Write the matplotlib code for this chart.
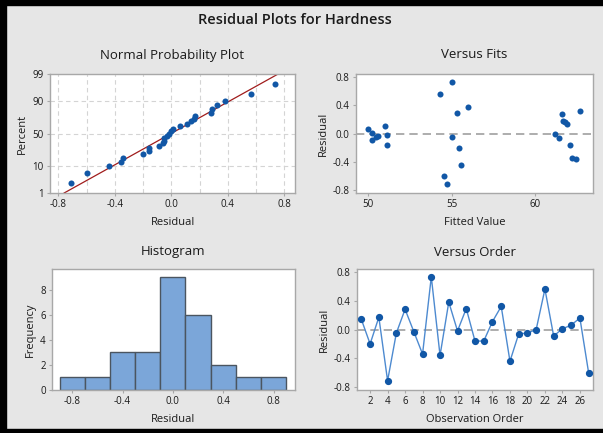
import matplotlib
matplotlib.use("Agg")
import matplotlib.pyplot as plt
from matplotlib.patches import Rectangle
from statistics import NormalDist
import numpy as np

plt.rcParams["font.family"] = ["Open Sans", "DejaVu Sans"]

# residuals in observation order (1..27)
residuals = [0.14, -0.20, 0.17, -0.71, -0.05, 0.28, -0.03, -0.34, 0.73,
             -0.36, 0.38, -0.02, 0.29, -0.16, -0.16, 0.11, 0.32, -0.44,
             -0.06, -0.05, 0.00, 0.56, -0.09, 0.01, 0.06, 0.16, -0.60]
# fitted values for the same observations
fitted = [61.94, 55.42, 61.72, 54.74, 55.00, 61.66, 50.60, 62.22, 55.00,
          62.45, 55.98, 51.14, 55.30, 62.14, 51.14, 51.00, 62.70, 55.56,
          61.48, 50.45, 61.24, 54.30, 50.20, 50.20, 50.00, 61.82, 54.56]
order = list(range(1, len(residuals) + 1))
hist_edges = [-0.9, -0.7, -0.5, -0.3, -0.1, 0.1, 0.3, 0.5, 0.7, 0.9]
pct_ticks = [1, 10, 50, 90, 99]

BG = "#e6e6e6"
BLUE = "#1157a6"
SPINE = "#a8a8a8"
TXT = "#1a1a1a"

W, H = 603, 433
fig = plt.figure(figsize=(W / 100, H / 100), dpi=100, facecolor=BG)


def px_axes(x0, y0, x1, y1):
    return fig.add_axes([x0 / W, 1 - y1 / H, (x1 - x0) / W, (y1 - y0) / H])


def style(ax):
    ax.set_facecolor("white")
    for s in ax.spines.values():
        s.set_color(SPINE)
        s.set_linewidth(1.0)
    ax.tick_params(labelsize=7, colors=TXT, length=2.5, width=0.8, pad=2)
    ax.tick_params(color=SPINE)


def ftext(x, y, s, **kw):
    fig.text(x / W, 1 - y / H, s, ha="center", va="center", color=TXT, **kw)


nd = NormalDist()

# --- Normal probability plot ---
ax1 = px_axes(50, 74, 295, 193)
style(ax1)
r_sorted = np.sort(residuals)
n = len(r_sorted)
probs = [(i + 1 - 0.3) / (n + 0.4) for i in range(n)]
z = [nd.inv_cdf(p) for p in probs]
mu, sd = np.mean(residuals), np.std(residuals, ddof=1)
zlo, zhi = nd.inv_cdf(0.01), nd.inv_cdf(0.99)
ax1.plot([mu + sd * zlo, mu + sd * zhi], [zlo, zhi], color="#a01c1c", lw=0.9, zorder=2)
ax1.scatter(r_sorted, z, s=19, color=BLUE, zorder=3, linewidths=0)
ax1.set_ylim(zlo, zhi)
ax1.set_xlim(-0.86, 0.875)
ax1.set_yticks([nd.inv_cdf(p / 100) for p in pct_ticks])
ax1.set_yticklabels([str(p) for p in pct_ticks])
ax1.set_xticks([-0.8, -0.4, 0.0, 0.4, 0.8])
ax1.set_xticklabels(["-0.8", "-0.4", "0.0", "0.4", "0.8"])
for gx in np.arange(-0.8, 0.81, 0.2):
    ax1.axvline(gx, color="#d4d4d4", lw=0.8, ls=(0, (4, 3)), zorder=0)
for p in [10, 50, 90]:
    ax1.axhline(nd.inv_cdf(p / 100), color="#d4d4d4", lw=0.8, ls=(0, (4, 3)), zorder=0)
ax1.set_xlabel("Residual", fontsize=8, color=TXT, labelpad=5)
ax1.set_ylabel("Percent", fontsize=8, color=TXT, labelpad=3)

# --- Versus fits ---
ax2 = px_axes(356, 74, 593, 193)
style(ax2)
ax2.axhline(0, color="#a0a0a0", lw=1.2, ls=(0, (5, 3)), zorder=1)
ax2.scatter(fitted, residuals, s=19, color=BLUE, zorder=3, linewidths=0)
ax2.set_xlim(49.26, 63.5)
ax2.set_ylim(-0.838, 0.838)
ax2.set_xticks([50, 55, 60])
ax2.set_yticks([-0.8, -0.4, 0.0, 0.4, 0.8])
ax2.set_yticklabels(["-0.8", "-0.4", "0.0", "0.4", "0.8"])
ax2.set_xlabel("Fitted Value", fontsize=8, color=TXT, labelpad=5)
ax2.set_ylabel("Residual", fontsize=8, color=TXT, labelpad=3)

# --- Histogram ---
ax3 = px_axes(52, 269, 295, 390)
style(ax3)
ax3.hist(residuals, bins=hist_edges, color="#7ba6d9", edgecolor="#4b5560", linewidth=1.0)
ax3.set_xlim(-0.96, 0.97)
ax3.set_ylim(0, 9.65)
ax3.set_yticks([0, 2, 4, 6, 8])
ax3.set_xticks([-0.8, -0.4, 0.0, 0.4, 0.8])
ax3.set_xticklabels(["-0.8", "-0.4", "0.0", "0.4", "0.8"])
ax3.set_xlabel("Residual", fontsize=8, color=TXT, labelpad=5)
ax3.set_ylabel("Frequency", fontsize=8, color=TXT, labelpad=3)

# --- Versus order ---
ax4 = px_axes(357, 269, 593, 390)
style(ax4)
ax4.axhline(0, color="#a0a0a0", lw=1.2, ls=(0, (5, 3)), zorder=1)
ax4.plot(order, residuals, color="#4d8ad0", lw=1.0, marker="o", ms=4.2,
         mfc=BLUE, mec=BLUE, zorder=3)
ax4.set_xlim(0.5, 27.5)
ax4.set_ylim(-0.838, 0.838)
ax4.set_xticks(range(2, 27, 2))
ax4.set_yticks([-0.8, -0.4, 0.0, 0.4, 0.8])
ax4.set_yticklabels(["-0.8", "-0.4", "0.0", "0.4", "0.8"])
ax4.set_xlabel("Observation Order", fontsize=8, color=TXT, labelpad=5)
ax4.set_ylabel("Residual", fontsize=8, color=TXT, labelpad=3)

# titles
ftext(295, 20, "Residual Plots for Hardness", fontsize=10.5, fontweight="semibold")
ftext(172, 55, "Normal Probability Plot", fontsize=9.5)
ftext(474, 55, "Versus Fits", fontsize=9.5)
ftext(173, 252, "Histogram", fontsize=9.5)
ftext(475, 252, "Versus Order", fontsize=9.5)

# dark frame pieces at the screenshot edges
fig.patches.append(Rectangle((0, 0), 6 / W, 1, transform=fig.transFigure, color="black"))
fig.patches.append(Rectangle((0, 1 - 5 / H), 1, 5 / H, transform=fig.transFigure, color="black"))
fig.patches.append(Rectangle((0, 0), 1, 4 / H, transform=fig.transFigure, color="black"))

fig.savefig("out.png", dpi=100, facecolor=BG)
